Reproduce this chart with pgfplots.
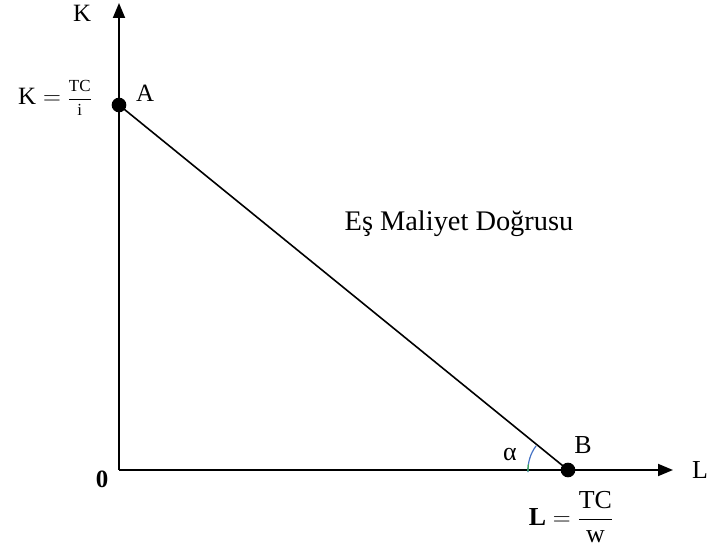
\documentclass[border=0pt]{standalone}
\usepackage{amsmath}
\usepackage{fontspec}
\setmainfont{Liberation Serif}
\usepackage{pgfplots}
\pgfplotsset{compat=1.18}
\usetikzlibrary{arrows.meta}
\definecolor{arcblue}{RGB}{70,115,196}
\definecolor{arcgreen}{RGB}{60,170,80}
\begin{document}
\begin{tikzpicture}
\begin{axis}[
  scale only axis, width=715bp, height=553bp,
  xmin=-119, xmax=596, ymin=-83, ymax=470,
  axis lines=none, clip=false,
]
\draw[line width=1.8bp,-{Triangle[length=15bp,width=12bp]}] (axis cs:0,0) -- (axis cs:554,0);
\draw[line width=1.8bp,-{Triangle[length=15bp,width=12bp]}] (axis cs:0,0) -- (axis cs:0,467);
\addplot[black, line width=1.6bp, mark=*, mark size=6.5bp] coordinates {(0,365) (449,0)};
% angle arc
\draw[arcblue, line width=1.2bp] (axis cs:449,0) ++(143:40bp) arc[start angle=143, end angle=183, radius=40bp];
\draw[arcgreen, line width=1.2bp] (axis cs:449,0) ++(172:40bp) arc[start angle=172, end angle=182, radius=40bp];
\node[font=\fontsize{25}{28}\selectfont] at (axis cs:-37,457) {K};
\node[font=\fontsize{26}{28}\selectfont] at (axis cs:581,0) {L};
\node[font=\fontsize{25}{28}\selectfont] at (axis cs:26,377) {A};
\node[font=\fontsize{26}{28}\selectfont] at (axis cs:464,25) {B};
\node[font=\fontsize{25}{28}\selectfont\bfseries] at (axis cs:-17,-9) {0};
\node[font=\fontsize{26}{28}\selectfont] at (axis cs:391,15) {α};
\node[font=\fontsize{28.5}{30}\selectfont] at (axis cs:340,246) {Eş Maliyet Doğrusu};
\node[font=\fontsize{25}{28}\selectfont] at (axis cs:-64,372) {K${}={}$\raisebox{0.1ex}{\fontsize{17}{18}\selectfont$\genfrac{}{}{0.7bp}{0}{\text{TC}}{\text{i}}$}};
\node[font=\fontsize{26}{28}\selectfont] at (axis cs:452,-47) {\textbf{L}${}={}$$\genfrac{}{}{1bp}{0}{\text{TC}}{\text{w}}$};
\end{axis}
\pgfresetboundingbox
\path (current axis.south west) rectangle (current axis.north east);
\end{tikzpicture}
\end{document}
